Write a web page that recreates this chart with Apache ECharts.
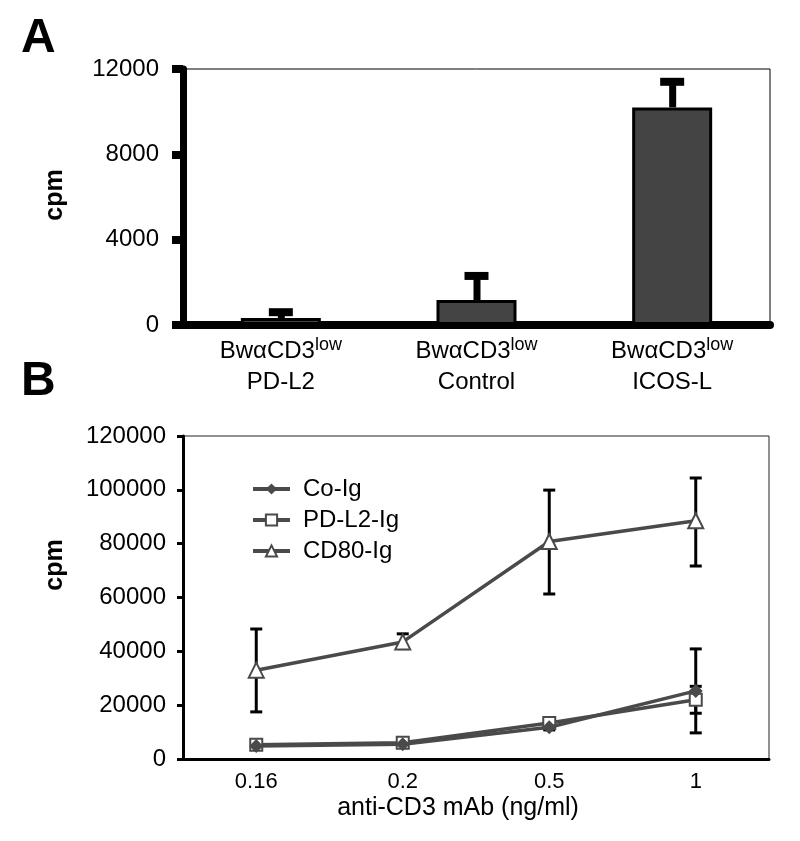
<!DOCTYPE html>
<html>
<head>
<meta charset="utf-8">
<script src="https://cdn.jsdelivr.net/npm/echarts@6/dist/echarts.min.js"></script>
<style>
  html, body { margin: 0; padding: 0; background: #fff; }
  #main { width: 800px; height: 841px; }
</style>
</head>
<body>
<div id="main"></div>
<script>
// panel A data
const catsA = ["PD-L2", "Control", "ICOS-L"];
const cpmA = [330, 1170, 10200];
const upperA = [600, 2300, 11400];

// panel B data
const catsB = ["0.16", "0.2", "0.5", "1"];
const coIg = [4800, 5500, 11800, 25300];
const coIgLow = [3800, 4800, 10800, 9700];
const coIgHigh = [6000, 6300, 12800, 40900];
const pdl2Ig = [5300, 6000, 13400, 22000];
const pdl2Low = [4300, 5000, 12400, 17000];
const pdl2High = [6300, 7000, 14400, 27000];
const cd80Ig = [33000, 43500, 80800, 88500];
const cd80Low = [17500, 41000, 61300, 71700];
const cd80High = [48300, 46500, 99900, 104400];

const FONT = "'Liberation Sans', Arial, sans-serif";
const LINE = "#4a4a4a";

let errA = catsA.map((c, i) => [i, cpmA[i], upperA[i]]);

let errB = (lo, hi) => lo.map((v, i) => [i, v, hi[i]]);

// T-shaped upper error bar for panel A
let renderErrA = (params, api) => {
  let p0 = api.coord([api.value(0), api.value(1)]);
  let p1 = api.coord([api.value(0), api.value(2)]);
  return {
    type: "group",
    children: [
      { type: "rect", shape: { x: p0[0] - 3, y: p1[1], width: 7, height: p0[1] - p1[1] }, style: { fill: "#000" } },
      { type: "rect", shape: { x: p0[0] - 12, y: p1[1] - 4, width: 24, height: 8 }, style: { fill: "#000" } },
    ],
  };
};

// I-shaped error bar for panel B
let renderErrB = (params, api) => {
  let lo = api.coord([api.value(0), api.value(1)]);
  let hi = api.coord([api.value(0), api.value(2)]);
  let st = { stroke: "#000", lineWidth: 3 };
  return {
    type: "group",
    children: [
      { type: "line", shape: { x1: lo[0], y1: lo[1], x2: hi[0], y2: hi[1] }, style: st },
      { type: "line", shape: { x1: lo[0] - 6, y1: lo[1], x2: lo[0] + 6, y2: lo[1] }, style: st },
      { type: "line", shape: { x1: hi[0] - 6, y1: hi[1], x2: hi[0] + 6, y2: hi[1] }, style: st },
    ],
  };
};

let plain = (v) => String(v);

let option = {
  animation: false,
  textStyle: { fontFamily: FONT },
  graphic: [
    { type: "text", left: 21, top: 15, style: { text: "A", font: "bold 48px " + FONT, fill: "#000" } },
    { type: "text", left: 21, top: 358, style: { text: "B", font: "bold 48px " + FONT, fill: "#000" } },
    { type: "text", x: 55, y: 195, rotation: Math.PI / 2,
      style: { text: "cpm", font: "bold 25px " + FONT, fill: "#000", align: "center", verticalAlign: "middle" } },
    { type: "text", x: 55, y: 565, rotation: Math.PI / 2,
      style: { text: "cpm", font: "bold 25px " + FONT, fill: "#000", align: "center", verticalAlign: "middle" } },
  ],
  legend: {
    orient: "vertical",
    left: 246,
    top: 472,
    itemWidth: 37,
    itemHeight: 14,
    itemGap: 7,
    lineStyle: { width: 4 },
    textStyle: { fontSize: 24, lineHeight: 23, color: "#000", fontFamily: FONT, padding: [0, 0, 0, 8] },
    data: ["Co-Ig", "PD-L2-Ig", "CD80-Ig"],
  },
  grid: [
    { left: 183, top: 69, width: 587, height: 256, show: true, borderColor: "#000", borderWidth: 1 },
    { left: 183, top: 436, width: 586, height: 323, show: true, borderColor: "#222", borderWidth: 1 },
  ],
  xAxis: [
    {
      gridIndex: 0,
      type: "category",
      data: catsA,
      axisLine: { lineStyle: { color: "#000", width: 8 } },
      axisTick: { length: 9, lineStyle: { color: "#000", width: 6 } },
      axisLabel: {
        margin: 11,
        color: "#000",
        formatter: (v) => "{a|Bw\u03B1CD3}{s|low}\n{a|" + v + "}",
        rich: {
          a: { fontSize: 24, lineHeight: 31, fontFamily: FONT, color: "#000" },
          s: { fontSize: 18, lineHeight: 31, verticalAlign: "top", padding: [0, 0, 10, 0], fontFamily: FONT, color: "#000" },
        },
      },
    },
    {
      gridIndex: 1,
      type: "category",
      data: catsB,
      name: "anti-CD3 mAb (ng/ml)",
      nameLocation: "middle",
      nameGap: 37,
      nameTextStyle: { fontSize: 25, color: "#000", fontFamily: FONT, padding: [0, 36, 0, 0] },
      axisLine: { lineStyle: { color: "#000", width: 3 } },
      axisTick: { length: 5, lineStyle: { color: "#000", width: 3 } },
      axisLabel: { margin: 12, fontSize: 22, color: "#000", fontFamily: FONT },
    },
  ],
  yAxis: [
    {
      gridIndex: 0,
      type: "value",
      min: 0,
      max: 12000,
      interval: 4000,
      axisLine: { show: true, lineStyle: { color: "#000", width: 7 } },
      axisTick: { show: true, length: 11, lineStyle: { color: "#000", width: 8 } },
      splitLine: { show: false },
      axisLabel: { margin: 24, fontSize: 24, color: "#000", fontFamily: FONT, formatter: plain },
    },
    {
      gridIndex: 1,
      type: "value",
      min: 0,
      max: 120000,
      interval: 20000,
      axisLine: { show: true, lineStyle: { color: "#000", width: 3 } },
      axisTick: { show: true, length: 6, lineStyle: { color: "#000", width: 3 } },
      splitLine: { show: false },
      axisLabel: { margin: 17, fontSize: 24, color: "#000", fontFamily: FONT, formatter: plain },
    },
  ],
  series: [
    {
      type: "bar",
      xAxisIndex: 0,
      yAxisIndex: 0,
      data: cpmA,
      barWidth: 80,
      itemStyle: { color: "#444", borderColor: "#000", borderWidth: 3 },
      z: 2,
    },
    {
      type: "custom",
      xAxisIndex: 0,
      yAxisIndex: 0,
      data: errA,
      renderItem: renderErrA,
      z: 3,
    },
    {
      type: "custom",
      xAxisIndex: 1,
      yAxisIndex: 1,
      data: errB(cd80Low, cd80High),
      renderItem: renderErrB,
      z: 1,
    },
    {
      type: "custom",
      xAxisIndex: 1,
      yAxisIndex: 1,
      data: errB(coIgLow, coIgHigh),
      renderItem: renderErrB,
      z: 1,
    },
    {
      type: "custom",
      xAxisIndex: 1,
      yAxisIndex: 1,
      data: errB(pdl2Low, pdl2High),
      renderItem: renderErrB,
      z: 1,
    },
    {
      name: "Co-Ig",
      type: "line",
      xAxisIndex: 1,
      yAxisIndex: 1,
      data: coIg,
      symbol: "diamond",
      symbolSize: 14,
      itemStyle: { color: LINE },
      lineStyle: { color: LINE, width: 3.5 },
      z: 4,
    },
    {
      name: "PD-L2-Ig",
      type: "line",
      xAxisIndex: 1,
      yAxisIndex: 1,
      data: pdl2Ig,
      symbol: "emptyRect",
      symbolSize: 12,
      itemStyle: { color: LINE, borderWidth: 2 },
      lineStyle: { color: LINE, width: 3.5 },
      z: 3,
    },
    {
      name: "CD80-Ig",
      type: "line",
      xAxisIndex: 1,
      yAxisIndex: 1,
      data: cd80Ig,
      symbol: "emptyTriangle",
      symbolSize: 15,
      itemStyle: { color: LINE, borderWidth: 3 },
      lineStyle: { color: LINE, width: 3.5 },
      z: 4,
    },
  ],
};

let myChart = echarts.init(document.getElementById("main"));
myChart.setOption(option);
</script>
</body>
</html>
